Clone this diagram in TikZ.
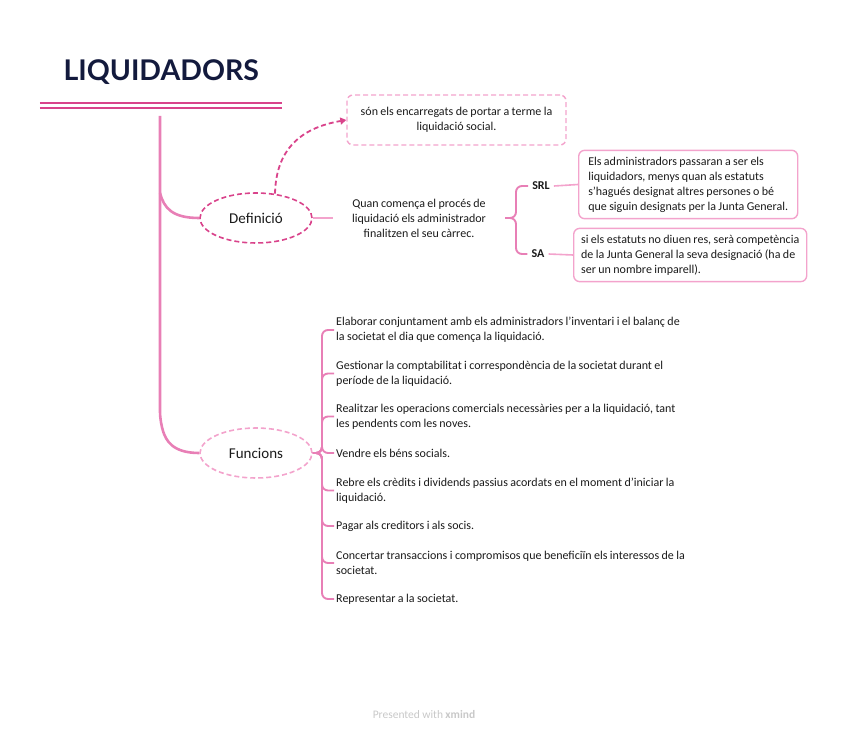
\documentclass[tikz,border=0pt]{standalone}
\usepackage{fontspec}
\setmainfont{Carlito}[WordSpace=0.9]
\newfontfamily\headfont{Lato}
\usepackage{tikz}
\usetikzlibrary{shapes.geometric, arrows.meta, positioning, calc}
\usepackage{xcolor}

\definecolor{ink}{HTML}{1A1A1A}
\definecolor{navy}{HTML}{131A3D}
\definecolor{pinkdark}{HTML}{D9438B}
\definecolor{pinkmid}{HTML}{E87FB6}
\definecolor{pinklight}{HTML}{F3A3CC}
\definecolor{credgray}{HTML}{C8C8C8}

\begin{document}
\begin{tikzpicture}[x=1pt, y=-1pt,
  topic/.style={ellipse, dash pattern=on 5pt off 3pt, line width=1.6pt, minimum width=112pt,
                minimum height=50pt, inner sep=0pt, text=ink,
                font=\fontsize{15}{17}\selectfont},
  txt/.style={font=\fontsize{12}{15}\selectfont, text=ink},
  item/.style={txt, anchor=west, align=flush left, inner xsep=2pt, inner ysep=1pt},
  card/.style={txt, draw=pinklight, line width=1.4pt, rounded corners=6pt,
               align=flush left, inner xsep=6pt, inner ysep=6.5pt},
  tag/.style={font=\bfseries\fontsize{12}{14}\selectfont, text=ink, inner xsep=4pt},
  trunk/.style={draw=pinkmid, line width=2.6pt, rounded corners=10pt},
  br/.style={draw=pinkmid, line width=1.9pt, rounded corners=6pt},
  thin/.style={draw=pinklight, line width=1.6pt}
]
\useasboundingbox (0,0) rectangle (848,735);

% Title
\node[font=\headfont\bfseries\fontsize{28.5}{32}\selectfont, text=navy, anchor=base west]
  (title) at (60,81) {LIQUIDADORS};
\node[minimum width=242pt, minimum height=5pt, inner sep=0pt] (bar) at (161,105.5) {};
\draw[pinkdark, line width=2.4pt] (bar.north west) -- (bar.north east);
\draw[pinkdark, line width=2.4pt] (bar.south west) -- (bar.south east);
\coordinate (root) at (160,116);
\coordinate (fork) at (160,193);

% Topics
\node[topic, draw=pinkdark] (defi) at (256,218) {Definició};
\node[topic, draw=pinklight] (func) at (256,453) {Funcions};

% Definicio side
\node[card, dash pattern=on 5pt off 3pt, align=flush center, minimum width=219pt, minimum height=50pt]
  (defnote) at (456.5,120) {són els encarregats de portar a terme la\\ liquidació social.};
\node[txt, align=flush center, minimum width=172pt, inner xsep=0pt] (quan) at (419,218)
  {Quan comença el procés de\\ liquidació els administrador\\ finalitzen el seu càrrec.};
\node[tag] (srl) at (541,186) {SRL};
\node[tag] (sa) at (538,254) {SA};
\node[card, anchor=west, minimum width=219pt] (srlbox) at (578,184.5)
  {Els administradors passaran a ser els\\ liquidadors, menys quan als estatuts\\
   s'hagués designat altres persones o bé\\ que siguin designats per la Junta General.};
\node[card, anchor=west, inner xsep=5pt, minimum width=233pt] (sabox) at (573,255)
  {si els estatuts no diuen res, serà competència\\ de la Junta General la seva designació (ha de\\
   ser un nombre imparell).};

% Funcions side
\node[item] (f1) at (334,330) {Elaborar conjuntament amb els administradors l'inventari i el balanç de\\ la societat el dia que comença la liquidació.};
\node[item] (f2) at (334,373.5) {Gestionar la comptabilitat i correspondència de la societat durant el\\ període de la liquidació.};
\node[item] (f3) at (334,416.5) {Realitzar les operacions comercials necessàries per a la liquidació, tant\\ les pendents com les noves.};
\node[item] (f4) at (334,453) {Vendre els béns socials.};
\node[item] (f5) at (334,490.5) {Rebre els crèdits i dividends passius acordats en el moment d'iniciar la\\ liquidació.};
\node[item] (f6) at (334,526) {Pagar als creditors i als socis.};
\node[item] (f7) at (334,563) {Concertar transaccions i compromisos que beneficiïn els interessos de la\\ societat.};
\node[item] (f8) at (334,599) {Representar a la societat.};

% Footer
\node[font=\fontsize{11.5}{13}\selectfont, text=credgray] (credit) at (424,715)
  {Presented with \textbf{xmind}};

% Connections
\draw[trunk] (root) -- (160,422) .. controls (166,440) and (172,453) .. (func.west);
\draw[pinkmid, line width=2.6pt] (fork) .. controls (164,208) and (172,218) .. (defi.west);
\draw[pinkdark, dash pattern=on 5pt off 3pt, line width=1.8pt, -{Triangle[width=7pt,length=6pt]}]
  (defi.52) .. controls (276,150) and (300,128) .. (defnote.west);
\draw[thin] (defi.east) -- (quan.west);
\draw[br] (quan.east) -- (516,218) |- (srl.west);
\draw[br] (quan.east) -- (516,218) |- (sa.west);
\draw[thin] (srl.east) -- (srlbox.west);
\draw[thin] (sa.east) -- (sabox.west);
\foreach \f in {f1,f2,f3,f4,f5,f6,f7,f8}
  \draw[br] (func.east) -- (322,453) |- (\f.west);

\end{tikzpicture}
\end{document}
